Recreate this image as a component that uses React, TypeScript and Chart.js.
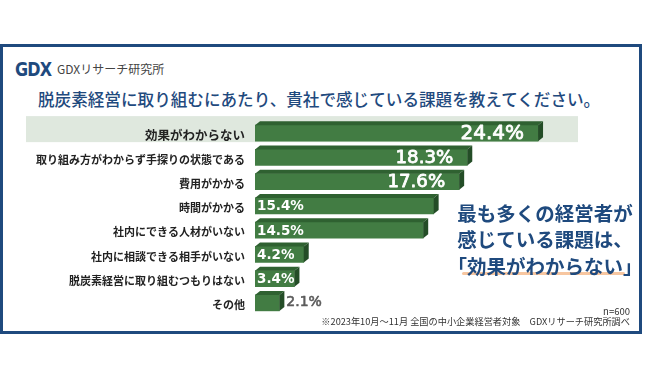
import React, { useEffect, useRef } from 'react';
import { Chart, registerables } from 'chart.js';

Chart.register(...registerables);

const categories = [
  '効果がわからない',
  '取り組み方がわからず手探りの状態である',
  '費用がかかる',
  '時間がかかる',
  '社内にできる人材がいない',
  '社内に相談できる相手がいない',
  '脱炭素経営に取り組むつもりはない',
  'その他',
];
const values = [24.4, 18.3, 17.6, 15.4, 14.5, 4.2, 3.4, 2.1];
const valueLabels = values.map((v) => v.toFixed(1) + '%');
const xMax = 30;

const brandName = 'GDXリサーチ研究所';
const titleText = '脱炭素経営に取り組むにあたり、貴社で感じている課題を教えてください。';
const calloutLines = ['最も多くの経営者が', '感じている課題は、', '「効果がわからない」'];
const sampleNote = 'n=600';
const sourceNote = '※2023年10月～11月 全国の中小企業経営者対象　GDXリサーチ研究所調べ';

const NAVY = '#1f4a7e';
const FACE = '#427c43';
const TOP = '#2f6131';
const SIDE = '#244d27';

const highlightPlugin = {
  id: 'rowHighlight',
  beforeDraw(chart: any) {
    const ctx = chart.ctx;
    const y = chart.scales.y;
    const cy = y.getPixelForValue(0);
    ctx.save();
    ctx.fillStyle = '#dfe8de';
    ctx.fillRect(26, cy - 17, 552, 26);
    ctx.restore();
  },
};

function heavyText(ctx: any, text: string, x: number, y: number, color: string, lw: number) {
  ctx.fillStyle = color;
  ctx.strokeStyle = color;
  ctx.lineWidth = lw;
  ctx.lineJoin = 'round';
  ctx.fillText(text, x, y);
  ctx.strokeText(text, x, y);
}

const bar3dPlugin = {
  id: 'bar3d',
  afterDatasetsDraw(chart: any) {
    const ctx = chart.ctx;
    const meta = chart.getDatasetMeta(0);
    const dx = 5;
    const dy = 4;
    ctx.save();
    meta.data.forEach((el: any, i: number) => {
      const { x, y, base, height } = el.getProps(['x', 'y', 'base', 'height'], true);
      const left = base;
      const right = x;
      const top = y - height / 2;
      const bottom = y + height / 2;
      ctx.fillStyle = TOP;
      ctx.beginPath();
      ctx.moveTo(left, top);
      ctx.lineTo(left + dx, top - dy);
      ctx.lineTo(right + dx, top - dy);
      ctx.lineTo(right, top);
      ctx.closePath();
      ctx.fill();
      ctx.fillStyle = SIDE;
      ctx.beginPath();
      ctx.moveTo(right, top);
      ctx.lineTo(right + dx, top - dy);
      ctx.lineTo(right + dx, bottom - dy);
      ctx.lineTo(right, bottom);
      ctx.closePath();
      ctx.fill();

      const v = values[i];
      const label = valueLabels[i];
      ctx.textBaseline = 'middle';
      if (v >= 17) {
        const size = i === 0 ? 20 : 18.2;
        ctx.font = `${size}px "DejaVu Sans"`;
        ctx.textAlign = 'right';
        heavyText(ctx, label, right - 14, y + 1, '#ffffff', 0.8);
      } else if (v >= 3) {
        ctx.font = 'bold 13.5px "DejaVu Sans"';
        ctx.textAlign = 'left';
        ctx.fillStyle = '#ffffff';
        ctx.fillText(label, left + 2, y + 1);
      } else {
        ctx.font = '14px "DejaVu Sans"';
        ctx.textAlign = 'left';
        heavyText(ctx, label, right + dx + 2, y - 1, '#5c5c5c', 0.6);
      }
    });
    ctx.restore();
  },
};

function Txt(props: {
  x: number;
  cy: number;
  size: number;
  align?: 'left' | 'right' | 'center';
  color?: string;
  weight?: string | number;
  family?: string;
  children: React.ReactNode;
  style?: React.CSSProperties;
}) {
  const { x, cy, size, align = 'left', color = '#333', weight = 'normal', family = '"Noto Sans CJK JP", "Noto Sans", sans-serif', children, style } = props;
  const h = Math.round(size * 1.3);
  const base: React.CSSProperties = {
    position: 'absolute',
    top: cy - h / 2,
    height: h,
    lineHeight: `${h}px`,
    fontSize: size,
    fontFamily: family,
    fontWeight: weight as any,
    color,
    whiteSpace: 'nowrap',
  };
  if (align === 'left') base.left = x;
  else if (align === 'right') base.right = 650 - x;
  else {
    base.left = x - 200;
    base.width = 400;
    base.textAlign = 'center';
  }
  return <div style={{ ...base, ...style }}>{children}</div>;
}

export default function App() {
  const canvasRef = useRef<HTMLCanvasElement | null>(null);

  useEffect(() => {
    if (!canvasRef.current) return;
    const chart = new Chart(canvasRef.current, {
      type: 'bar',
      data: {
        labels: categories,
        datasets: [
          {
            data: values,
            backgroundColor: FACE,
            borderWidth: 0,
            barThickness: 16,
          },
        ],
      },
      options: {
        indexAxis: 'y',
        responsive: false,
        animation: false,
        devicePixelRatio: 1,
        layout: { padding: { left: 0, right: 47, top: 121, bottom: 65 } },
        plugins: {
          legend: { display: false },
          tooltip: { enabled: false },
          title: { display: false },
        },
        scales: {
          x: {
            display: false,
            min: 0,
            max: xMax,
            grid: { display: false },
          },
          y: {
            grid: { display: false, drawTicks: false },
            border: { display: false },
            ticks: {
              color: '#222',
              padding: 10,
              labelOffset: 2,
              font: (c: any) => ({
                family: '"Noto Sans CJK JP", sans-serif',
                weight: 'bold',
                size: c.index === 0 ? 12.5 : 11,
              }),
            },
            afterFit: (scale: any) => {
              scale.width = 255;
            },
          },
        },
      },
      plugins: [highlightPlugin, bar3dPlugin],
    });
    return () => chart.destroy();
  }, []);

  return (
    <div style={{ position: 'absolute', left: 0, top: 0, width: 650, height: 380, background: '#fff', overflow: 'hidden' }}>
      <div
        style={{
          position: 'absolute',
          left: 0,
          top: 44,
          width: 642,
          height: 290,
          boxSizing: 'border-box',
          border: `3px solid ${NAVY}`,
        }}
      />
      <Txt x={15} cy={69} size={20} color={NAVY} weight="bold" family='"DejaVu Sans", sans-serif' style={{ transform: 'scaleX(0.8)', transformOrigin: 'left center', letterSpacing: -1 }}>
        GDX
      </Txt>
      <Txt x={57} cy={69} size={12} color="#444">
        {brandName}
      </Txt>
      <Txt x={38} cy={99} size={16.6} color={NAVY} weight={500}>
        {titleText}
      </Txt>
      <canvas ref={canvasRef} width={650} height={380} style={{ position: 'absolute', left: 0, top: 0, width: 650, height: 380 }} />
      <div
        style={{
          position: 'absolute',
          left: 462,
          top: 272,
          width: 163,
          height: 3,
          borderRadius: 2,
          background: '#f7c6a0',
        }}
      />
      {calloutLines.map((line, i) => (
        <Txt key={i} x={545} cy={212 + i * 26.5} size={19.5} align="center" color={NAVY} weight="bold">
          {line}
        </Txt>
      ))}
      <Txt x={630} cy={311} size={9.5} align="right" color="#333">
        {sampleNote}
      </Txt>
      <Txt x={630} cy={321} size={9.2} align="right" color="#333">
        {sourceNote}
      </Txt>
    </div>
  );
}
